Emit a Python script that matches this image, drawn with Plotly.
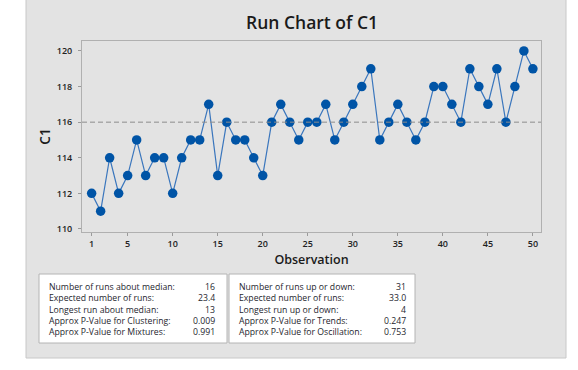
import plotly.graph_objects as go

observations = list(range(1, 51))
c1_values = [112, 111, 114, 112, 113, 115, 113, 114, 114, 112,
             114, 115, 115, 117, 113, 116, 115, 115, 114, 113,
             116, 117, 116, 115, 116, 116, 117, 115, 116, 117,
             118, 119, 115, 116, 117, 116, 115, 116, 118, 118,
             117, 116, 119, 118, 117, 119, 116, 118, 120, 119]
median_value = 116
x_ticks = [1, 5, 10, 15, 20, 25, 30, 35, 40, 45, 50]
y_ticks = [110, 112, 114, 116, 118, 120]

left_labels = ["Number of runs about median:", "Expected number of runs:",
               "Longest run about median:", "Approx P-Value for Clustering:",
               "Approx P-Value for Mixtures:"]
left_values = ["16", "23.4", "13", "0.009", "0.991"]
right_labels = ["Number of runs up or down:", "Expected number of runs:",
                "Longest run up or down:", "Approx P-Value for Trends:",
                "Approx P-Value for Oscillation:"]
right_values = ["31", "33.0", "4", "0.247", "0.753"]

W, H = 578, 370
L, R, T, B = 82, 541, 41, 232
pw, ph = R - L, B - T

def px(x):
    return (x - L) / pw

def py(y):
    return (B - y) / ph

fig = go.Figure()
fig.add_trace(go.Scatter(
    x=observations, y=c1_values, mode="lines+markers",
    line=dict(color="#3a76bd", width=1.2),
    marker=dict(color="#0054a6", size=9.5),
    hoverinfo="x+y", showlegend=False))

shapes = []
shapes.append(dict(type="rect", xref="paper", yref="paper",
                   x0=px(26), x1=px(566), y0=py(358), y1=py(-3),
                   fillcolor="#e3e3e3", line=dict(color="#c8c8c8", width=1),
                   layer="below"))
shapes.append(dict(type="line", xref="paper", yref="y", x0=0, x1=1,
                   y0=median_value, y1=median_value,
                   line=dict(color="#8c8c8c", width=1, dash="5px,3px")))
for (x0, x1) in [(39, 227), (229, 415)]:
    shapes.append(dict(type="rect", xref="paper", yref="paper",
                       x0=px(x0), x1=px(x1), y0=py(343), y1=py(274),
                       fillcolor="white", line=dict(color="#b4b4b4", width=1),
                       layer="below"))

annotations = []
annotations.append(dict(text="Run Chart of C1", xref="paper", yref="paper",
                        x=0.5, y=py(22), showarrow=False,
                        font=dict(family="Open Sans", size=17.5, color="#1a1a1a",
                                  weight=600),
                        xanchor="center", yanchor="middle"))
row_y = [287, 298.3, 309.6, 320.9, 332.2]
tf = dict(family="Open Sans", size=8.7, color="#1e1e2e")
for i in range(5):
    annotations.append(dict(text=left_labels[i], xref="paper", yref="paper",
                            x=px(47), y=py(row_y[i]), showarrow=False,
                            xanchor="left", yanchor="middle", font=tf))
    annotations.append(dict(text=left_values[i], xref="paper", yref="paper",
                            x=px(217), y=py(row_y[i]), showarrow=False,
                            xanchor="right", yanchor="middle", font=tf))
    annotations.append(dict(text=right_labels[i], xref="paper", yref="paper",
                            x=px(237), y=py(row_y[i]), showarrow=False,
                            xanchor="left", yanchor="middle", font=tf))
    annotations.append(dict(text=right_values[i], xref="paper", yref="paper",
                            x=px(408), y=py(row_y[i]), showarrow=False,
                            xanchor="right", yanchor="middle", font=tf))

axis_common = dict(showgrid=False, zeroline=False, showline=True,
                   linecolor="#b0b0b0", linewidth=1, mirror=True,
                   ticks="outside", ticklen=3, tickcolor="#9a9a9a",
                   tickfont=dict(family="Open Sans", size=9, color="#222222",
                                 weight=600))

fig.update_layout(
    width=W, height=H,
    margin=dict(l=L, r=W - R, t=T, b=H - B, pad=0),
    paper_bgcolor="white", plot_bgcolor="white",
    shapes=shapes, annotations=annotations,
    xaxis=dict(range=[-0.07, 50.9], tickvals=x_ticks,
               title=dict(text="Observation", standoff=6,
                          font=dict(family="Open Sans", size=12.5, color="#1a1a1a",
                                    weight=600)),
               **axis_common),
    yaxis=dict(range=[109.83, 120.56], tickvals=y_ticks, ticklabelstandoff=4,
               title=dict(text="C1", standoff=3,
                          font=dict(family="Open Sans", size=13.5, color="#1a1a1a",
                                    weight=600)),
               **axis_common),
)

fig.write_html("out.html", config={"displayModeBar": False},
               post_script="document.body.style.margin='0px';document.body.style.padding='0px';")
